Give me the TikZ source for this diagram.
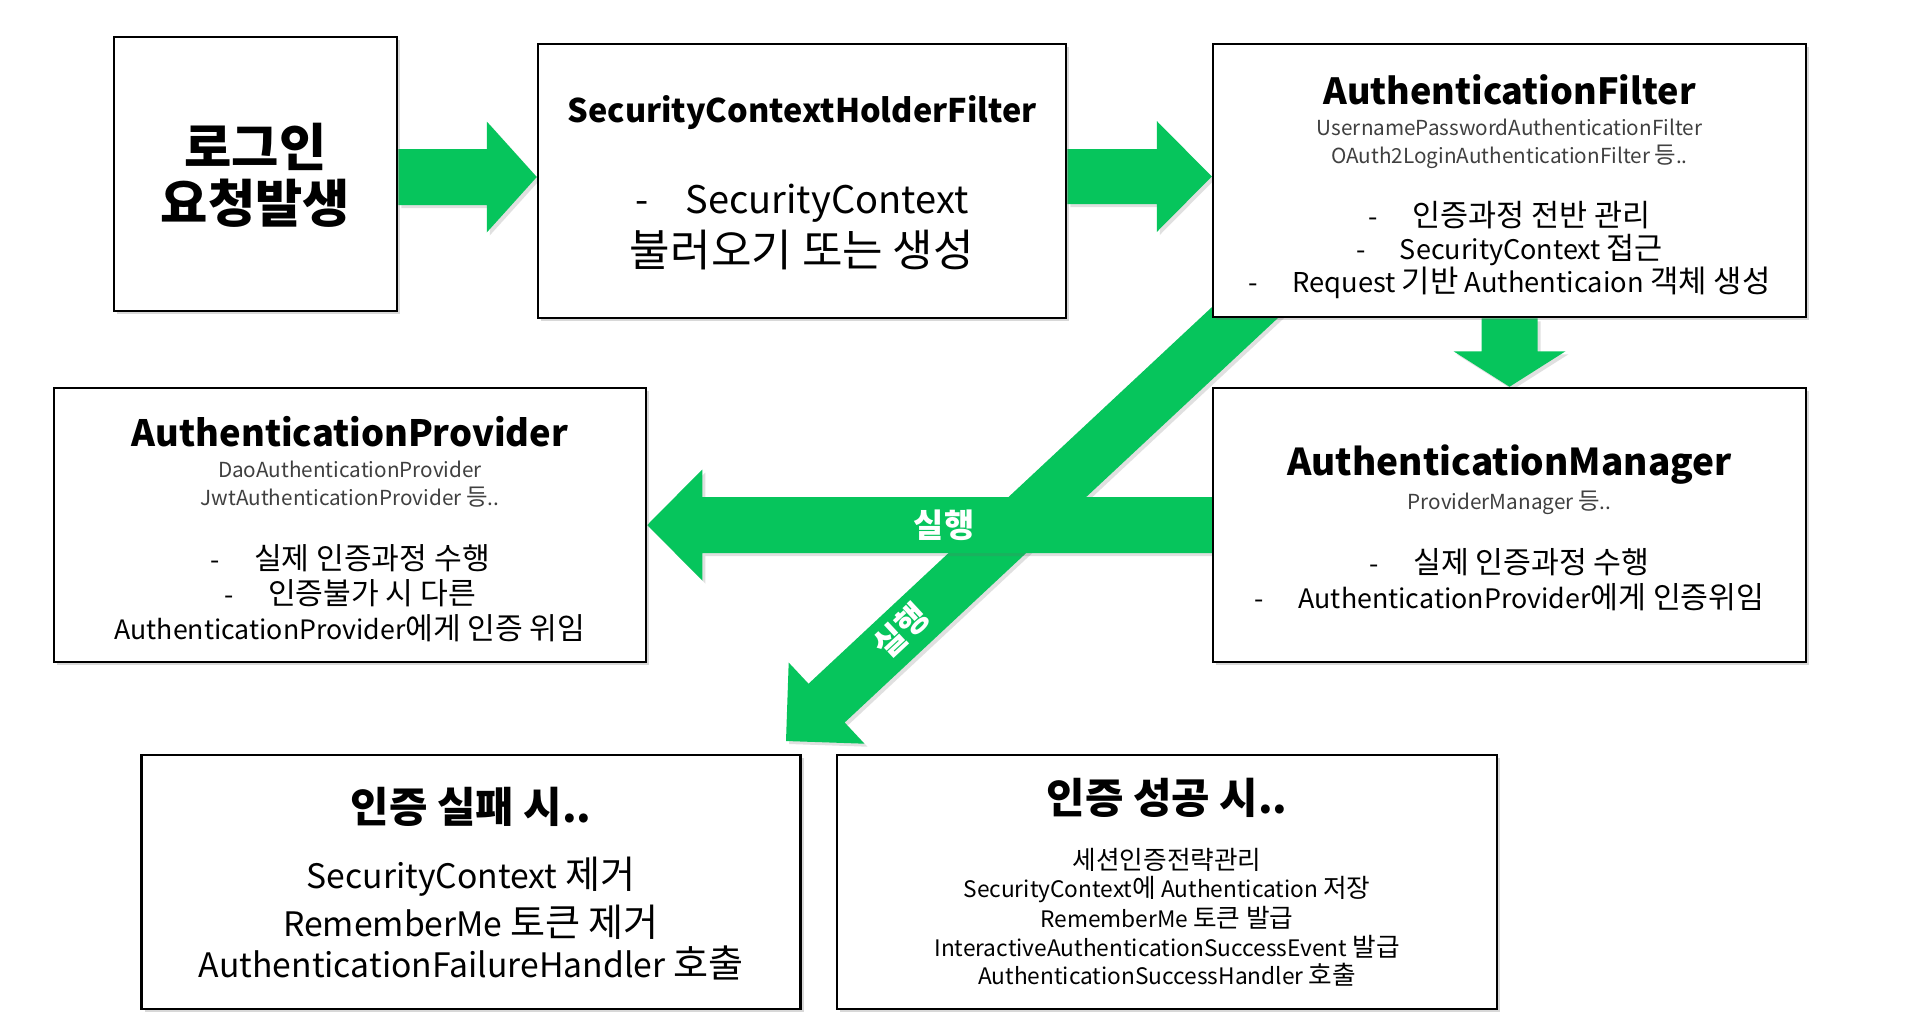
\documentclass[tikz,border=0pt]{standalone}
\usepackage{fontspec}
\setmainfont{Noto Sans CJK KR}
\newfontfamily\hgf[Scale=1.13]{Noto Sans CJK KR}
\newcommand{\hg}[1]{{\hgf #1}}
\usetikzlibrary{calc,shadows}
\definecolor{grn}{RGB}{6,197,92}
\definecolor{subgray}{RGB}{64,64,64}
\pgfdeclarelayer{bg}
\pgfsetlayers{bg,main}
\newcommand{\fs}[1]{\fontsize{#1}{#1}\selectfont}
\newcommand{\dsh}{\makebox[44pt][l]{-}}
\newcommand{\dshw}{\makebox[50pt][l]{-}}
% start, end, shaft half width, head half width, head length
\newcommand{\blockarrow}[5]{%
  \coordinate (tmpB) at ($(#2)!#5!(#1)$);
  \fill[arrowfill] ($(#1)!#3!90:(#2)$) -- ($(tmpB)!#3!90:(#2)$) -- ($(tmpB)!#4!90:(#2)$) -- (#2)
    -- ($(tmpB)!#4!-90:(#2)$) -- ($(tmpB)!#3!-90:(#2)$) -- ($(#1)!#3!-90:(#2)$) -- cycle;
}
\begin{document}
\begin{tikzpicture}[x=1pt,y=-1pt,
  box/.style={draw=black, line width=2.5pt, fill=white, rectangle, inner sep=0pt,
    drop shadow={shadow xshift=3pt, shadow yshift=-3pt, opacity=0.25, fill=black!60}},
  arrowfill/.style={fill=grn, drop shadow={shadow xshift=3pt, shadow yshift=-3pt, opacity=0.2, fill=black!60}},
  tx/.style={inner sep=0pt, align=center},
  lbl/.style={inner sep=0pt, text=white, font=\bfseries\fs{29}},
]
\useasboundingbox (0,0) rectangle (1919,1026);

% boxes
\node[box, minimum width=283pt, minimum height=274pt] (login) at (255.5,174) {};
\node[box, minimum width=528pt, minimum height=274pt] (schf) at (802,181) {};
\node[box, minimum width=593pt, minimum height=273pt] (af) at (1509.5,180.5) {};
\node[box, minimum width=592pt, minimum height=274pt] (ap) at (350,525) {};
\node[box, minimum width=593pt, minimum height=274pt] (am) at (1509.5,525) {};
\node[box, minimum width=659pt, minimum height=254pt] (fail) at (471,882) {};
\node[box, minimum width=660pt, minimum height=254pt] (succ) at (1167,882) {};

% arrows (behind boxes)
\coordinate (dgS) at (1283,277);
\coordinate (dgE) at (786,741);
\begin{pgfonlayer}{bg}
  \fill[white] (0,0) rectangle (1919,1026);
  \blockarrow{dgS}{dgE}{26.5pt}{55.5pt}{55.5pt}
  \blockarrow{am.west}{ap.east}{28pt}{55.5pt}{55pt}
  \blockarrow{login.east |- 0,177}{schf.west |- 0,177}{28pt}{55.5pt}{50pt}
  \blockarrow{schf.east |- 0,176.5}{af.west |- 0,176.5}{27.5pt}{55.5pt}{55pt}
  \blockarrow{af.south}{am.north}{28pt}{56pt}{35.5pt}
\end{pgfonlayer}
\node[lbl] (run1) at (944,525) {\hg{실행}};
\node[lbl, rotate=43] (run2) at (901,631) {\hg{실행}};

% login
\node[tx, font=\bfseries\fs{45.5}] (lg1) at (255.5,147) {\hg{로그인}};
\node[tx, font=\bfseries\fs{45.5}] (lg2) at (255.5,203) {\hg{요청발생}};

% SecurityContextHolderFilter
\node[tx, font=\bfseries\fs{32.5}] (scT) at (802,113) {SecurityContextHolderFilter};
\node[tx, font=\fs{38}] (sc1) at (802,203) {\dshw SecurityContext};
\node[tx, font=\fs{39}] (sc2) at (802,250) {\hg{불러오기 또는 생성}};

% AuthenticationFilter
\node[tx, font=\bfseries\fs{36}] (afT) at (1509.5,90) {AuthenticationFilter};
\node[tx, font=\fs{20.7}, text=subgray] (afS1) at (1509.5,127) {UsernamePasswordAuthenticationFilter};
\node[tx, font=\fs{20.7}, text=subgray] (afS2) at (1509.5,157) {OAuth2LoginAuthenticationFilter \hg{등}..};
\node[tx, font=\fs{27}] (afB1) at (1509.5,215) {\dsh \hg{인증과정 전반 관리}};
\node[tx, font=\fs{27}] (afB2) at (1509.5,250) {\dsh SecurityContext \hg{접근}};
\node[tx, font=\fs{27.3}] (afB3) at (1509.5,283) {\dsh Request \hg{기반} Authenticaion \hg{객체 생성}};

% AuthenticationProvider
\node[tx, font=\bfseries\fs{36.3}] (apT) at (350,432) {AuthenticationProvider};
\node[tx, font=\fs{20.7}, text=subgray] (apS1) at (350,469) {DaoAuthenticationProvider};
\node[tx, font=\fs{20.7}, text=subgray] (apS2) at (350,497) {JwtAuthenticationProvider \hg{등}..};
\node[tx, font=\fs{26.7}] (apB1) at (350,558) {\dsh \hg{실제 인증과정 수행}};
\node[tx, font=\fs{26.7}] (apB2) at (350,593) {\dsh \hg{인증불가 시 다른}};
\node[tx, font=\fs{26.7}] (apB3) at (350,628) {AuthenticationProvider\hg{에게 인증 위임}};

% AuthenticationManager
\node[tx, font=\bfseries\fs{37}] (amT) at (1509.5,465) {AuthenticationManager};
\node[tx, font=\fs{20.7}, text=subgray] (amS1) at (1509.5,503) {ProviderManager \hg{등}..};
\node[tx, font=\fs{26.8}] (amB1) at (1509.5,562) {\dsh \hg{실제 인증과정 수행}};
\node[tx, font=\fs{26.8}] (amB2) at (1509.5,597) {\dsh AuthenticationProvider\hg{에게 인증위임}};

% failure
\node[tx, font=\bfseries\fs{37}] (flT) at (471,807) {\hg{인증 실패 시..}};
\node[tx, font=\fs{33.7}] (fl1) at (471,877) {SecurityContext \hg{제거}};
\node[tx, font=\fs{33.7}] (fl2) at (471,922) {RememberMe \hg{토큰 제거}};
\node[tx, font=\fs{33.7}] (fl3) at (471,963) {AuthenticationFailureHandler \hg{호출}};

% success
\node[tx, font=\bfseries\fs{37}] (scsT) at (1167,798) {\hg{인증 성공 시..}};
\node[tx, font=\fs{22.7}] (sc_1) at (1167,860) {\hg{세션인증전략관리}};
\node[tx, font=\fs{22.7}] (sc_2) at (1167,890) {SecurityContext\hg{에} Authentication \hg{저장}};
\node[tx, font=\fs{22.7}] (sc_3) at (1167,918) {RememberMe \hg{토큰 발급}};
\node[tx, font=\fs{22.7}] (sc_4) at (1167,947) {InteractiveAuthenticationSuccessEvent \hg{발급}};
\node[tx, font=\fs{22.7}] (sc_5) at (1167,975) {AuthenticationSuccessHandler \hg{호출}};
\end{tikzpicture}
\end{document}
